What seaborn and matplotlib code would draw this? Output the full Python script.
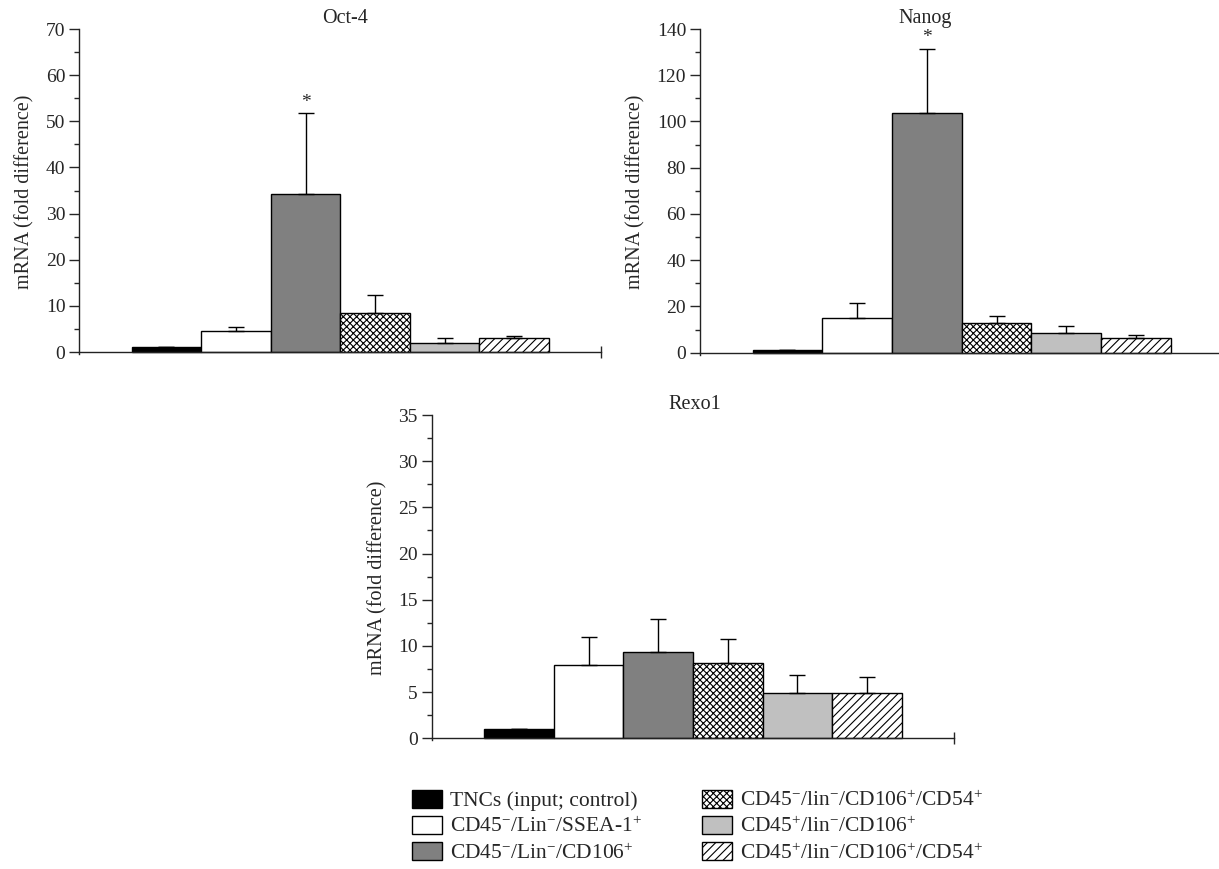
import matplotlib
matplotlib.use('Agg')
import matplotlib.pyplot as plt
import seaborn as sns
import numpy as np
from matplotlib.patches import Patch
from matplotlib.ticker import MultipleLocator

# cell populations (legend order)
groups = [
    'TNCs (input; control)',
    'CD45$^{-}$/Lin$^{-}$/SSEA-1$^{+}$',
    'CD45$^{-}$/Lin$^{-}$/CD106$^{+}$',
    'CD45$^{-}$/lin$^{-}$/CD106$^{+}$/CD54$^{+}$',
    'CD45$^{+}$/lin$^{-}$/CD106$^{+}$',
    'CD45$^{+}$/lin$^{-}$/CD106$^{+}$/CD54$^{+}$',
]
colors = ['black', 'white', '#808080', 'white', '#c0c0c0', 'white']
hatches = ['', '', '', 'xxxxx', '', '////']

# mean fold difference and upper error (SD) per gene
oct4_mean = [1.0, 4.5, 34.2, 8.5, 2.0, 3.0]
oct4_sd = [0.0, 1.0, 17.5, 3.9, 1.1, 0.4]
nanog_mean = [1.0, 15.0, 103.7, 13.0, 8.5, 6.5]
nanog_sd = [0.0, 6.7, 27.8, 2.8, 3.0, 1.2]
rexo1_mean = [1.0, 7.9, 9.3, 8.1, 4.9, 4.85]
rexo1_sd = [0.0, 3.1, 3.6, 2.7, 2.0, 1.75]

sns.set_style('white')
plt.rcParams['font.family'] = ['Liberation Serif', 'DejaVu Serif']
plt.rcParams['mathtext.fontset'] = 'custom'
plt.rcParams['mathtext.rm'] = 'Liberation Serif'
plt.rcParams['mathtext.it'] = 'Liberation Serif:italic'
plt.rcParams['hatch.linewidth'] = 0.8

W, H = 1219, 869
fig = plt.figure(figsize=(W / 100, H / 100), dpi=100)

XLIM = (-1.253, 6.247)


def add_axes_px(x0, x1, yzero, ytop, ymax, ylow):
    ppu = (yzero - ytop) / ymax
    ybot = yzero + (-ylow) * ppu
    return fig.add_axes([x0 / W, 1 - ybot / H, (x1 - x0) / W, (ybot - ytop) / H])


def panel(ax, mean, sd, ymax, major, minor, title, title_x, star):
    ylow = -0.006 * ymax
    sns.barplot(x=groups, y=mean, hue=groups, palette=colors, legend=False,
                width=1.0, edgecolor='black', linewidth=1, ax=ax)
    for p, h in zip(ax.patches, hatches):
        p.set_hatch(h)
    ax.errorbar(range(len(mean)), mean, yerr=[np.zeros(len(sd)), sd],
                fmt='none', ecolor='black', elinewidth=1, capsize=5.5, capthick=1, zorder=1)
    ax.set_xlim(*XLIM)
    ax.set_ylim(ylow, ymax)
    ax.yaxis.set_major_locator(MultipleLocator(major))
    ax.yaxis.set_minor_locator(MultipleLocator(minor))
    ax.tick_params(axis='y', which='major', direction='out', length=7, width=1,
                   labelsize=14, pad=3, left=True)
    ax.tick_params(axis='y', which='minor', direction='out', length=3.5, width=1, left=True)
    ax.spines['top'].set_visible(False)
    ax.spines['right'].set_visible(False)
    ax.spines['bottom'].set_position(('data', 0))
    for s in ('left', 'bottom'):
        ax.spines[s].set_linewidth(1)
        ax.spines[s].set_color('#222222')
    ax.set_xticks([XLIM[1]])
    ax.set_xticklabels([''])
    ax.tick_params(axis='x', direction='inout', length=8, width=1, bottom=True)
    ax.set_xlabel('')
    ax.set_ylabel('mRNA (fold difference)', fontsize=14.5, labelpad=8)
    ax.set_title(title, x=title_x, pad=4, fontsize=14.5)
    if star:
        ax.annotate('*', xy=(2, mean[2] + sd[2]), xytext=(0, 2), textcoords='offset points',
                    ha='center', va='bottom', fontsize=14)


ax1 = add_axes_px(79.3, 601, 352, 29, 70, -0.42)
panel(ax1, oct4_mean, oct4_sd, 70, 10, 5, 'Oct-4', 0.509, True)

ax2 = add_axes_px(700, 1223, 352.7, 29, 140, -0.84)
panel(ax2, nanog_mean, nanog_sd, 140, 20, 10, 'Nanog', 0.43, True)

ax3 = add_axes_px(431.7, 953.7, 738.3, 415, 35, -0.21)
panel(ax3, rexo1_mean, rexo1_sd, 35, 5, 2.5, 'Rexo1', 0.504, False)

handles = [Patch(facecolor=c, edgecolor='black', hatch=h, linewidth=1)
           for c, h in zip(colors, hatches)]
fig.legend(handles=handles, labels=groups, ncol=2, loc='upper left',
           bbox_to_anchor=(412 / W, 1 - 790 / H), frameon=False, fontsize=15.5,
           handlelength=1.4, handleheight=0.9, handletextpad=0.35,
           columnspacing=2.8, labelspacing=0.22, borderpad=0, borderaxespad=0)

fig.savefig('out.png', dpi=100)
